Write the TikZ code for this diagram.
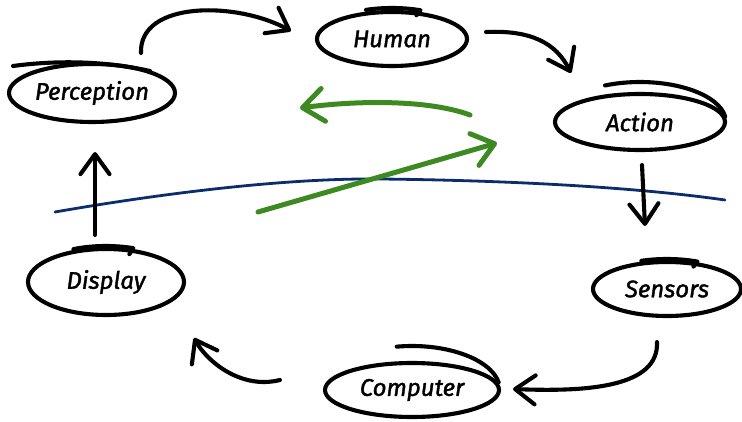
\documentclass[tikz,border=0pt]{standalone}
\usepackage{fontspec}
\setmainfont{Fira Sans}
\newfontfamily\handfont{Fira Sans}[ItalicFeatures={FakeBold=1.6}]
\usetikzlibrary{arrows.meta,shapes.geometric}
\definecolor{leafgreen}{HTML}{3E8A22}
\definecolor{navyline}{HTML}{0B2D6B}
\begin{document}
\begin{tikzpicture}[x=1pt,y=-1pt,
  ink/.style={line width=4.1pt,line cap=round,line join=round,draw=black},
  bubble/.style={ellipse,ink,inner sep=-3pt,
    font=\handfont\itshape\fontsize{24}{28}\selectfont},
  flow/.style={ink,-{Straight Barb[length=20pt,width=29pt,round]}},
  greenflow/.style={line width=5pt,line cap=round,draw=leafgreen,
    -{Straight Barb[length=21pt,width=33pt,round]}},
  boundary/.style={line width=2.8pt,draw=navyline,line cap=round}]
\useasboundingbox (0,0) rectangle (742,422);

% boundary curve between the human side and the machine side
\draw[boundary] (55,212) .. controls (170,192) and (290,178) .. (380,179)
  .. controls (480,180) and (620,185) .. (725,200);

% the six stages of the loop
\node[bubble,minimum width=166,minimum height=58] (perc) at (92,93) {Perception};
\node[bubble,minimum width=150,minimum height=54] (human) at (392,39) {Human};
\node[bubble,minimum width=170,minimum height=56] (action) at (640,122) {Action};
\node[bubble,minimum width=148,minimum height=54] (sens) at (667,289) {Sensors};
\node[bubble,minimum width=174,minimum height=54] (comp) at (412,390) {Computer};
\node[bubble,minimum width=156,minimum height=66] (disp) at (106,282) {Display};

% overshooting pen strokes at the top of each ellipse
\draw[ink] ([shift={(-79,-27)}]perc.center) .. controls +(45,-6) and +(-45,-10)
  .. ([shift={(58,-22)}]perc.center);
\draw[ink] ([shift={(110:76pt and 31pt)}]human.center)
  arc[start angle=110,end angle=68,x radius=76pt,y radius=31pt]
  -- ++(-4pt,-5pt);
\draw[ink] ([shift={(114:86pt and 40pt)}]action.center)
  arc[start angle=114,end angle=8,x radius=86pt,y radius=40pt];
\draw[ink] ([shift={(110:75pt and 30pt)}]sens.center)
  arc[start angle=110,end angle=66,x radius=75pt,y radius=30pt]
  -- ++(-4pt,-5pt);
\draw[ink] ([shift={(100:88pt and 44pt)}]comp.center)
  arc[start angle=100,end angle=10,x radius=88pt,y radius=44pt];
\draw[ink] ([shift={(114:80pt and 36pt)}]disp.center)
  arc[start angle=114,end angle=70,x radius=80pt,y radius=36pt]
  -- ++(-4pt,-6pt);

% loop connectors
\draw[flow] ([shift={(49,-9)}]perc.north) .. controls +(-2,-52) and +(-55,-30)
  .. ([shift={(-24,-8)}]human.west);
\draw[flow] ([shift={(17,-7)}]human.east) .. controls +(45,-2) and +(-15,-30)
  .. ([shift={(-69,-19)}]action.north);
\draw[flow] ([shift={(2,13)}]action.south) -- ([shift={(-22,-34)}]sens.north);
\draw[flow] ([shift={(-10,24)}]sens.south) .. controls +(2,45) and +(75,3)
  .. ([shift={(12,-1)}]comp.east);
\draw[flow] ([shift={(-43,-10)}]comp.west) .. controls +(-40,10) and +(12,22)
  .. ([shift={(8,56)}]disp.east);
\draw[flow] ([shift={(-11,-12)}]disp.north) -- ([shift={(3,28)}]perc.south);

% green arrows across the boundary
\coordinate (gA) at (470,115);
\coordinate (gB) at (300,108);
\coordinate (gC) at (258,212);
\coordinate (gD) at (497,143);
\draw[greenflow] (gA) .. controls (430,100) and (360,100) .. (gB);
\draw[greenflow] (gC) -- (gD);
\end{tikzpicture}
\end{document}
